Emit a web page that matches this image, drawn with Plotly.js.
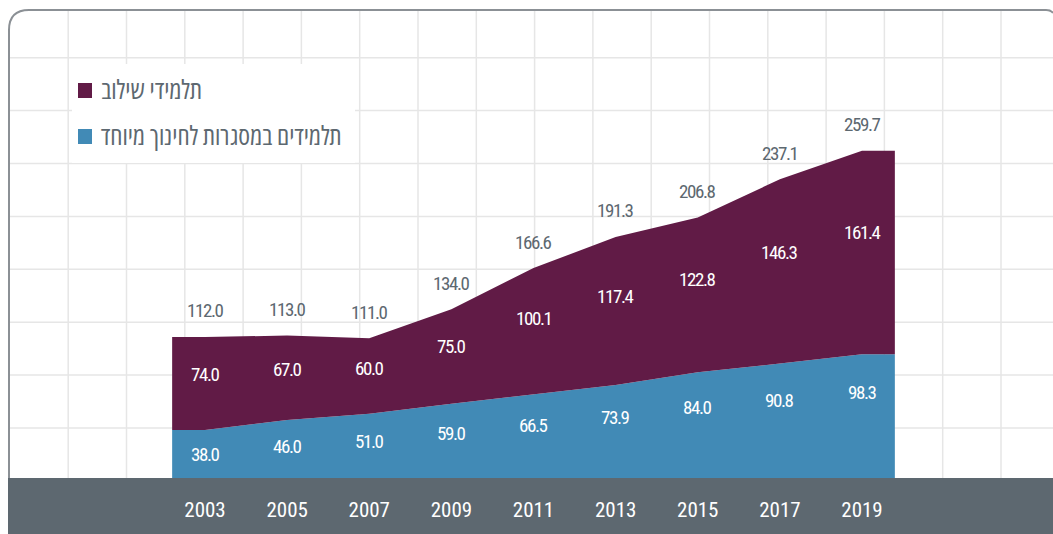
<!DOCTYPE html>
<html>
<head>
<meta charset="utf-8">
<script src="https://cdn.plot.ly/plotly-3.0.1.min.js"></script>
<style>
html,body{margin:0;padding:0;background:#fff;}
#chart{width:1053px;height:534px;}
text{font-stretch:75%;}
</style>
</head>
<body>
<div id="chart"></div>
<script>
// ---- data ----
const years = [2003, 2005, 2007, 2009, 2011, 2013, 2015, 2017, 2019];
const specialEd = [38.0, 46.0, 51.0, 59.0, 66.5, 73.9, 84.0, 90.8, 98.3];      // תלמידים במסגרות לחינוך מיוחד
const inclusion = [74.0, 67.0, 60.0, 75.0, 100.1, 117.4, 122.8, 146.3, 161.4]; // תלמידי שילוב
const totals = [112.0, 113.0, 111.0, 134.0, 166.6, 191.3, 206.8, 237.1, 259.7];
const yearLabels = years.map(String);
const seriesNames = ['תלמידי שילוב', 'תלמידים במסגרות לחינוך מיוחד'];

// ---- style ----
const W = 1053, H = 534, PB = 478;
const PURPLE = '#611b46', BLUE = '#418ab6', BAND = '#5d6870', GREY = '#5d6870', GRID = '#e6e6e6';
const NUMFONT = '"Roboto Condensed", "Roboto", sans-serif';
const HEBFONT = '"Open Sans", "Liberation Sans", sans-serif';
const px = x => x / W;
const py = y => (PB - y) / PB;
const pxPerYear = (862 - 205) / 16;
const xr = [2003 - 205 / pxPerYear, 2003 + (W - 205) / pxPerYear];
const pxPerUnit = 1.26;
const yr = [0, PB / pxPerUnit];
const tight = s => `<span style="letter-spacing:-1.4px">${s}</span>`;

// each area runs to the outer edge of its first and last year column
const edge = 0.8;
const n = years.length;
const xsArea = [years[0] - edge, ...years, years[n - 1] + edge];
const ext = arr => [arr[0], ...arr, arr[n - 1]];

const traces = [
  {x: xsArea, y: ext(specialEd), name: seriesNames[1], type: 'scatter', mode: 'lines',
   stackgroup: 'one', line: {width: 0, color: BLUE}, fillcolor: BLUE, hoverinfo: 'skip'},
  {x: xsArea, y: ext(inclusion), name: seriesNames[0], type: 'scatter', mode: 'lines',
   stackgroup: 'one', line: {width: 0, color: PURPLE}, fillcolor: PURPLE, hoverinfo: 'skip'}
];

const shapes = [];
// decorative background grid
for (let k = 0; k < 18; k++) {
  const gx = 68.2 + 58.3 * k;
  if (gx > W) break;
  shapes.push({type: 'line', layer: 'below', xref: 'paper', yref: 'paper',
    x0: px(gx), x1: px(gx), y0: py(10), y1: py(PB), line: {color: GRID, width: 1.5}});
}
for (let k = 0; k < 8; k++) {
  const gy = 57.7 + 52.9 * k;
  shapes.push({type: 'line', layer: 'below', xref: 'paper', yref: 'paper',
    x0: px(10), x1: px(W), y0: py(gy), y1: py(gy), line: {color: GRID, width: 1.5}});
}
// legend backing
shapes.push({type: 'rect', layer: 'below', xref: 'paper', yref: 'paper',
  x0: px(72), x1: px(355), y0: py(64), y1: py(163), fillcolor: '#ffffff', line: {width: 0}});
// bottom band
shapes.push({type: 'rect', layer: 'below', xref: 'paper', yref: 'paper',
  x0: px(8), x1: px(W), y0: py(PB), y1: py(H), fillcolor: BAND, line: {width: 0}});
// frame
shapes.push({type: 'path', layer: 'above', xref: 'paper', yref: 'paper',
  path: `M${px(9)},${py(PB)} L${px(9)},${py(30)} Q${px(9)},${py(10)} ${px(29)},${py(10)} L${px(1046)},${py(10)} Q${px(1051)},${py(10)} ${px(1053)},${py(13)}`,
  line: {color: '#8b9095', width: 2}});
// legend swatches
shapes.push({type: 'rect', xref: 'paper', yref: 'paper', x0: px(78), x1: px(92), y0: py(83), y1: py(98),
  fillcolor: PURPLE, line: {width: 0}});
shapes.push({type: 'rect', xref: 'paper', yref: 'paper', x0: px(78), x1: px(92), y0: py(129), y1: py(144),
  fillcolor: BLUE, line: {width: 0}});

const annotations = [];
years.forEach((yv, i) => {
  annotations.push({x: yv, y: totals[i], xref: 'x', yref: 'y', yshift: 26, showarrow: false,
    text: tight(totals[i].toFixed(1)), font: {family: NUMFONT, size: 19, color: GREY}});
  annotations.push({x: yv, y: specialEd[i] + 0.6 * inclusion[i], xref: 'x', yref: 'y', showarrow: false,
    text: tight(inclusion[i].toFixed(1)), font: {family: NUMFONT, size: 19, color: '#ffffff'}});
  annotations.push({x: yv, y: 0.82 * specialEd[i] - 12.7, xref: 'x', yref: 'y', showarrow: false,
    text: tight(specialEd[i].toFixed(1)), font: {family: NUMFONT, size: 19, color: '#ffffff'}});
});
annotations.push({x: px(99), y: py(89), xref: 'paper', yref: 'paper', xanchor: 'left', yanchor: 'middle',
  showarrow: false, text: seriesNames[0], font: {family: HEBFONT, size: 26, color: GREY}});
annotations.push({x: px(99), y: py(135), xref: 'paper', yref: 'paper', xanchor: 'left', yanchor: 'middle',
  showarrow: false, text: seriesNames[1], font: {family: HEBFONT, size: 26, color: GREY}});

const layout = {
  width: W, height: H,
  margin: {l: 0, r: 0, t: 0, b: H - PB, pad: 0},
  paper_bgcolor: '#ffffff', plot_bgcolor: 'rgba(0,0,0,0)',
  showlegend: false,
  font: {family: NUMFONT},
  xaxis: {range: xr, tickvals: years, ticktext: yearLabels, showgrid: false, zeroline: false,
    showline: false, ticks: 'outside', ticklen: 13, tickcolor: 'rgba(0,0,0,0)',
    tickfont: {family: NUMFONT, size: 21, color: '#ffffff'}, fixedrange: true},
  yaxis: {range: yr, showgrid: false, zeroline: false, showline: false, showticklabels: false,
    ticks: '', fixedrange: true},
  shapes: shapes,
  annotations: annotations
};

Plotly.newPlot('chart', traces, layout, {displayModeBar: false, staticPlot: true});
</script>
</body>
</html>
